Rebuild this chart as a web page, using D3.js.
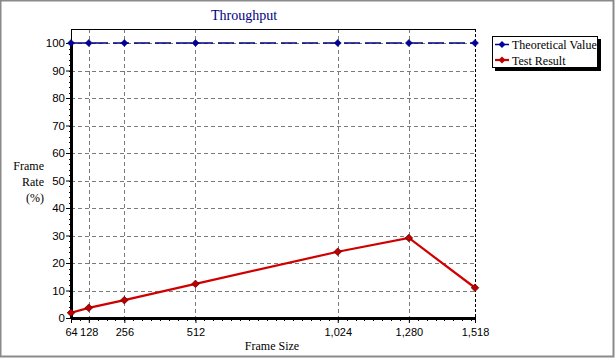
<!DOCTYPE html>
<html><head><meta charset="utf-8">
<script src="https://cdn.jsdelivr.net/npm/d3@7"></script>
<style>body{margin:0;background:#fff}svg{display:block}</style>
</head><body>
<svg id="c" width="615" height="359"></svg>
<script>
const frameSizes = [64, 128, 256, 512, 1024, 1280, 1518];
const theoretical = [100, 100, 100, 100, 100, 100, 100];
const testResult = [1.9, 3.7, 6.5, 12.4, 24.1, 29.1, 11.0];
const yTicks = [0, 10, 20, 30, 40, 50, 60, 70, 80, 90, 100];
const seriesNames = ["Theoretical Value", "Test Result"];

const svg = d3.select("#c");
const L = 71, R = 475, T = 29, B = 318;
const x = d3.scaleLinear().domain([64, 1518]).range([L, R]);
const y = d3.scaleLinear().domain([0, 100]).range([B, 43]);
const dia = r => `M0,${-r}L${r},0L0,${r}L${-r},0Z`;

// outer border
svg.append("rect").attr("x", 0.5).attr("y", 0.5).attr("width", 613).attr("height", 356)
  .attr("fill", "#fff").attr("stroke", "#8a8a8a").attr("stroke-width", 2);

// gridlines
const g = svg.append("g");
g.selectAll(".hg").data(yTicks.filter(d => d > 0)).join("line")
  .attr("x1", L).attr("x2", R).attr("y1", d => Math.round(y(d)) + 0.5).attr("y2", d => Math.round(y(d)) + 0.5)
  .attr("stroke", "#7a7a7a").attr("stroke-dasharray", "4,3");
g.selectAll(".vg").data(frameSizes.slice(1, -1)).join("line")
  .attr("y1", T).attr("y2", B).attr("x1", d => Math.round(x(d)) + 0.5).attr("x2", d => Math.round(x(d)) + 0.5)
  .attr("stroke", "#7a7a7a").attr("stroke-dasharray", "4,3");

// frame
svg.append("line").attr("x1", L).attr("x2", R + 0.5).attr("y1", T + 0.5).attr("y2", T + 0.5).attr("stroke", "#000");
svg.append("line").attr("x1", L + 0.5).attr("x2", L + 0.5).attr("y1", T).attr("y2", 43).attr("stroke", "#000");
svg.append("line").attr("x1", R + 0.5).attr("x2", R + 0.5).attr("y1", T).attr("y2", B).attr("stroke", "#000").attr("stroke-dasharray", "3,2");

const sans = "Liberation Sans, Arial, sans-serif";
// axes
const yAxis = d3.axisLeft(y).tickValues(yTicks).tickSize(5).tickFormat(d3.format("d"));
const ya = svg.append("g").attr("transform", `translate(${L},0)`).call(yAxis);
ya.select(".domain").remove();
ya.selectAll("text").attr("font-family", sans).attr("font-size", 11.5).attr("fill", "#000").attr("x", -6);
svg.append("g").selectAll("line").data(d3.range(0, 101, 2)).join("line")
  .attr("x1", L - 2).attr("x2", L).attr("y1", d => Math.round(y(d)) + 0.5).attr("y2", d => Math.round(y(d)) + 0.5).attr("stroke", "#000");

const xAxis = d3.axisBottom(x).tickValues(frameSizes).tickSize(5).tickFormat(d3.format(","));
const xa = svg.append("g").attr("transform", `translate(0,${B})`).call(xAxis);
xa.select(".domain").remove();
xa.selectAll("text").attr("font-family", sans).attr("font-size", 11).attr("fill", "#000").attr("dy", "0.95em");
svg.append("g").selectAll("line").data(d3.range(64, 1519, 32)).join("line")
  .attr("x1", d => Math.round(x(d)) + 0.5).attr("x2", d => Math.round(x(d)) + 0.5).attr("y1", B).attr("y2", B + 3).attr("stroke", "#000");

// thick axis lines
svg.append("line").attr("x1", L + 0.5).attr("x2", L + 0.5).attr("y1", 43).attr("y2", B + 1).attr("stroke", "#000").attr("stroke-width", 3);
svg.append("line").attr("x1", L).attr("x2", R + 1).attr("y1", B + 0.5).attr("y2", B + 0.5).attr("stroke", "#000").attr("stroke-width", 3);

// series
const line = d3.line().x((d, i) => x(frameSizes[i])).y(d => y(d));
svg.append("path").datum(theoretical).attr("d", line).attr("fill", "none")
  .attr("stroke", "#000080").attr("stroke-width", 1.5).attr("stroke-dasharray", "16,5");
svg.selectAll(".tp").data(theoretical).join("path")
  .attr("transform", (d, i) => `translate(${x(frameSizes[i])},${y(d)})`)
  .attr("d", dia(3.5)).attr("fill", "#0000a0").attr("stroke", "#000060").attr("stroke-width", 0.5);

svg.append("path").datum(testResult).attr("d", line).attr("fill", "none")
  .attr("stroke", "#d00000").attr("stroke-width", 2.2);
svg.selectAll(".rp").data(testResult).join("path")
  .attr("transform", (d, i) => `translate(${x(frameSizes[i])},${y(d)})`)
  .attr("d", dia(3.8)).attr("fill", "#c00000").attr("stroke", "#500000").attr("stroke-width", 0.7);

// title & labels
const serif = "Liberation Serif, Times New Roman, serif";
svg.append("text").attr("x", 244).attr("y", 20).attr("text-anchor", "middle")
  .attr("font-family", serif).attr("font-size", 14).attr("fill", "#000080").text("Throughput");
const yl = ["Frame", "Rate", "(%)"];
svg.selectAll(".yl").data(yl).join("text").attr("x", 44).attr("y", (d, i) => 170 + i * 16)
  .attr("text-anchor", "end").attr("font-family", serif).attr("font-size", 12).attr("fill", "#000").text(d => d);
svg.append("text").attr("x", 272).attr("y", 350).attr("text-anchor", "middle")
  .attr("font-family", serif).attr("font-size", 12).attr("fill", "#000").text("Frame Size");

// legend
const lg = svg.append("g");
lg.append("rect").attr("x", 495).attr("y", 39).attr("width", 106).attr("height", 32).attr("fill", "#000");
lg.append("rect").attr("x", 492.5).attr("y", 36.5).attr("width", 105).attr("height", 31).attr("fill", "#fff").attr("stroke", "#000");
const colors = ["#000080", "#d00000"];
const mcol = ["#0000a0", "#c00000"];
seriesNames.forEach((n, i) => {
  const cy = 44.5 + i * 15.5;
  lg.append("line").attr("x1", 495).attr("x2", 509).attr("y1", cy).attr("y2", cy).attr("stroke", colors[i]).attr("stroke-width", i ? 2.2 : 1.5);
  lg.append("path").attr("transform", `translate(502,${cy})`).attr("d", dia(3.5)).attr("fill", mcol[i]);
  lg.append("text").attr("x", 512).attr("y", cy + 4.5).attr("font-family", serif).attr("font-size", 12).attr("fill", "#000").text(n);
});
</script>
</body></html>
